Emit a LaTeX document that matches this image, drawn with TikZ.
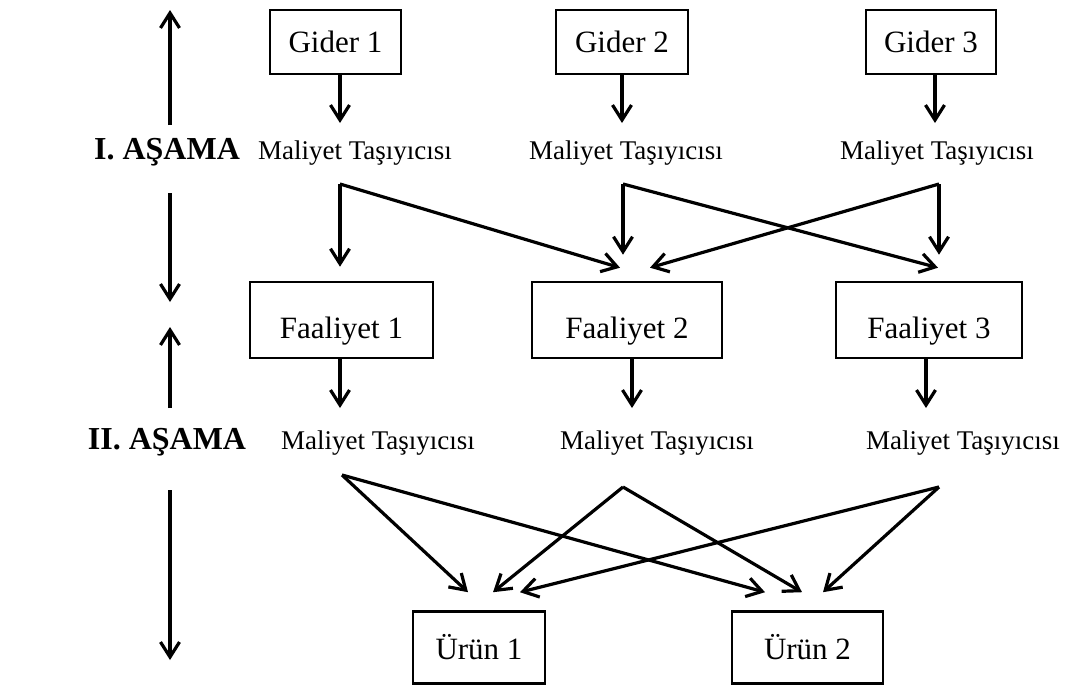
\documentclass[tikz,border=0pt]{standalone}
\usepackage{fontspec}
\setmainfont{Liberation Serif}
\usetikzlibrary{arrows.meta}

\newcommand{\lowtext}[1]{\raisebox{-11pt}[0.68em][0.22em]{#1}}

\begin{document}
\begin{tikzpicture}[x=1pt,y=-1pt]
  \tikzstyle{box}=[rectangle,draw,line width=2.6pt,inner sep=0pt,font=\fontsize{31}{36}\selectfont]
  \tikzstyle{carrier}=[inner sep=0pt,font=\fontsize{27}{32}\selectfont]
  \tikzstyle{stage}=[inner sep=0pt,font=\fontsize{32}{36}\selectfont\bfseries]
  \tikzstyle{arr}=[line width=3.2pt,-{Straight Barb[length=15pt,width=19pt]}]

  \useasboundingbox (0,0) rectangle (1065,686);

  % first stage
  \node[box,minimum width=131,minimum height=64] (g1) at (335.5,42) {Gider 1};
  \node[box,minimum width=132,minimum height=64] (g2) at (622,42) {Gider 2};
  \node[box,minimum width=130,minimum height=64] (g3) at (931,42) {Gider 3};

  \node[carrier] (m11) at (355,153) {Maliyet Taşıyıcısı};
  \node[carrier] (m12) at (626,153) {Maliyet Taşıyıcısı};
  \node[carrier] (m13) at (937,153) {Maliyet Taşıyıcısı};

  \node[box,minimum width=183,minimum height=76] (f1) at (341.5,320) {\lowtext{Faaliyet 1}};
  \node[box,minimum width=190,minimum height=76] (f2) at (627,320) {\lowtext{Faaliyet 2}};
  \node[box,minimum width=186,minimum height=76] (f3) at (929,320) {\lowtext{Faaliyet 3}};

  % second stage
  \node[carrier] (m21) at (378,443) {Maliyet Taşıyıcısı};
  \node[carrier] (m22) at (657,443) {Maliyet Taşıyıcısı};
  \node[carrier] (m23) at (963,443) {Maliyet Taşıyıcısı};

  \node[box,minimum width=132,minimum height=72] (u1) at (479,647.5) {Ürün 1};
  \node[box,minimum width=151,minimum height=72] (u2) at (807.5,647.5) {Ürün 2};

  \node[stage] (st1) at (167,152) {I. AŞAMA};
  \node[stage] (st2) at (167,442) {II. AŞAMA};

  \coordinate (k1) at (340,123);
  \coordinate (k2) at (622,123);
  \coordinate (k3) at (935,123);
  \coordinate (c1) at (340,184);
  \coordinate (c2) at (623,184);
  \coordinate (c3) at (939,184);
  \coordinate (p1) at (340,408);
  \coordinate (p2) at (632,408);
  \coordinate (p3) at (926,408);
  \coordinate (d1) at (342,475);
  \coordinate (d2) at (623,487);
  \coordinate (d3) at (939,487);

  \draw[arr] (g1.south -| k1) -- (k1);
  \draw[arr] (g2.south -| k2) -- (k2);
  \draw[arr] (g3.south -| k3) -- (k3);

  \draw[arr] (c1) -- ([yshift=14pt]f1.north -| c1);
  \draw[arr] (c1) -- ([shift={(-7pt,13pt)}]f2.north);
  \draw[arr] (c2) -- ([yshift=26pt]f2.north -| c2);
  \draw[arr] (c2) -- ([shift={(9pt,13pt)}]f3.north);
  \draw[arr] (c3) -- ([yshift=26pt]f3.north -| c3);
  \draw[arr] (c3) -- ([shift={(23pt,13pt)}]f2.north);

  \draw[arr] (f1.south -| p1) -- (p1);
  \draw[arr] (f2.south -| p2) -- (p2);
  \draw[arr] (f3.south -| p3) -- (p3);

  \draw[arr] (d1) -- ([shift={(-11pt,18pt)}]u1.north);
  \draw[arr] (d1) -- ([shift={(-42.5pt,18pt)}]u2.north);
  \draw[arr] (d2) -- ([shift={(14pt,18pt)}]u1.north);
  \draw[arr] (d2) -- ([shift={(-5.5pt,18pt)}]u2.north);
  \draw[arr] (d3) -- ([shift={(41pt,18pt)}]u1.north);
  \draw[arr] (d3) -- ([shift={(15.5pt,18pt)}]u2.north);

  % stage arrows
  \coordinate (s1a) at (170,125);
  \coordinate (s1b) at (170,10);
  \coordinate (s2a) at (170,193);
  \coordinate (s2b) at (170,302);
  \coordinate (s3a) at (170,408);
  \coordinate (s3b) at (170,327);
  \coordinate (s4a) at (170,490);
  \coordinate (s4b) at (170,660);
  \draw[arr] (s1a) -- (s1b);
  \draw[arr] (s2a) -- (s2b);
  \draw[arr] (s3a) -- (s3b);
  \draw[arr] (s4a) -- (s4b);
\end{tikzpicture}
\end{document}
